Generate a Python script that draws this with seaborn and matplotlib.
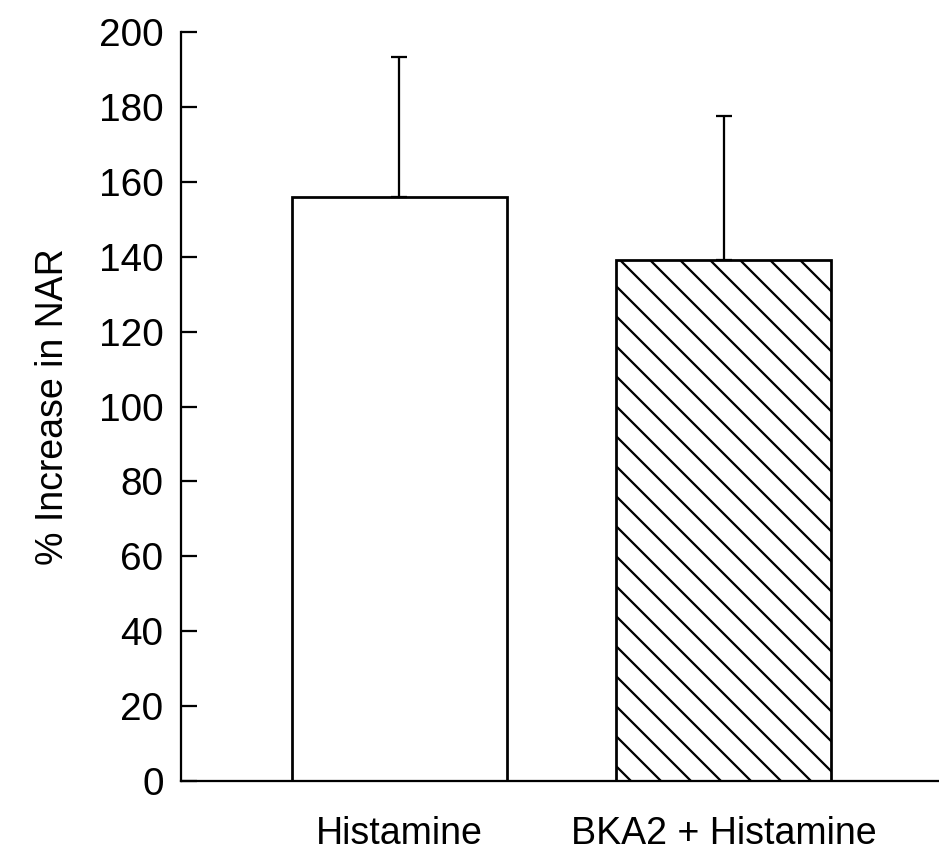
import pandas as pd
import matplotlib
matplotlib.use("Agg")
import matplotlib.pyplot as plt
import seaborn as sns

groups = ["Histamine", "BKA2 + Histamine"]
mean_increase = [156, 139]
sem_upper = [37.3, 38.5]
y_ticks = [0, 20, 40, 60, 80, 100, 120, 140, 160, 180, 200]

df = pd.DataFrame({"group": groups, "increase": mean_increase})

sns.set_style("ticks")
plt.rcParams['font.family'] = ['Liberation Sans', 'DejaVu Sans']
plt.rcParams['hatch.linewidth'] = 0.9
plt.rcParams['hatch.color'] = 'black'

fig = plt.figure(figsize=(939 / 180, 852 / 180), dpi=180)
ax = fig.add_axes([0.1928, 0.0833, 0.8072, 0.8791])

sns.barplot(x="group", y="increase", data=df, color="white", edgecolor="black",
            linewidth=1.1, width=0.663, ax=ax, errorbar=None, saturation=1)
# double backslash -> diagonal lines roughly 30px apart like the original
ax.patches[1].set_hatch("\\\\")

ax.errorbar(x=[0, 1], y=mean_increase, yerr=[[0, 0], sem_upper], fmt="none",
            ecolor="black", elinewidth=0.9, capsize=3.2, capthick=0.9, zorder=1)

ax.set_xlim(-0.672, 1.664)
ax.set_ylim(0, 200)
ax.set_yticks(y_ticks)
ax.tick_params(axis="y", direction="in", length=6.4, width=0.9, pad=7,
               labelsize=15.5, colors="black")
ax.tick_params(axis="x", length=0, pad=14, labelsize=15, colors="black")
ax.set_xlabel("")
ax.set_ylabel("% Increase in NAR", fontsize=15, labelpad=11, color="black")
for s in ["top", "right"]:
    ax.spines[s].set_visible(False)
for s in ["left", "bottom"]:
    ax.spines[s].set_linewidth(0.9)
    ax.spines[s].set_color("black")

fig.savefig("out.png", dpi=180)
